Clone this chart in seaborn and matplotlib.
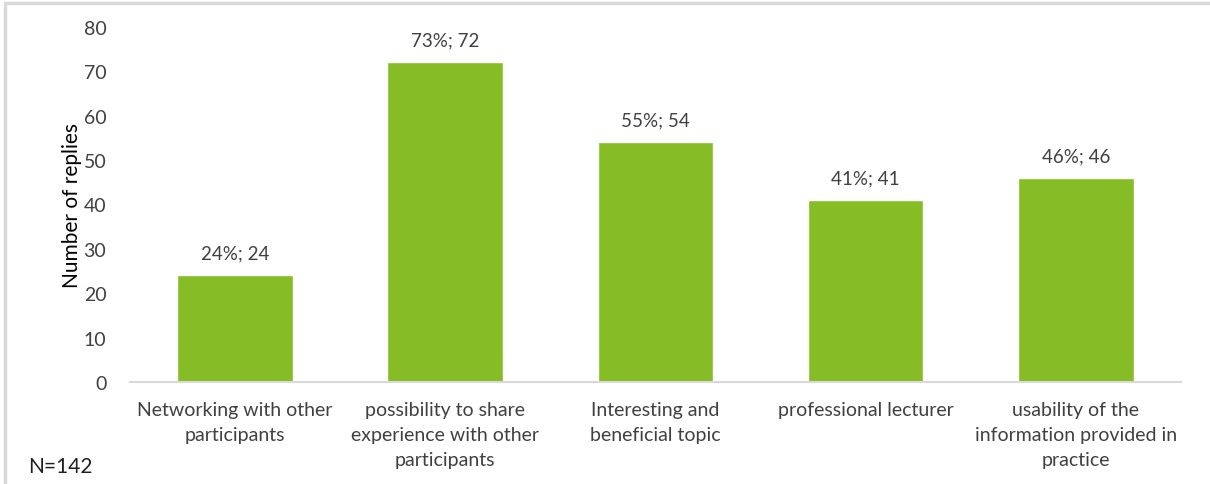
import matplotlib
matplotlib.use("Agg")
import matplotlib.pyplot as plt
import seaborn as sns
import pandas as pd
from matplotlib.patches import Rectangle

categories = [
    "Networking with other\nparticipants",
    "possibility to share\nexperience with other\nparticipants",
    "Interesting and\nbeneficial topic",
    "professional lecturer",
    "usability of the\ninformation provided in\npractice",
]
replies = [24, 72, 54, 41, 46]
shares = [24, 73, 55, 41, 46]
yticks = [0, 10, 20, 30, 40, 50, 60, 70, 80]
sample_note = "N=142"

sns.set_theme(style="white")
plt.rcParams["font.family"] = ["Lato", "DejaVu Sans"]

text_color = "#404040"
bar_color = "#86BC25"

df = pd.DataFrame({"category": categories, "replies": replies})

fig = plt.figure(figsize=(12.1, 4.85), dpi=100)
ax = fig.add_axes([0.1074, 0.2103, 0.8686, 0.732])

sns.barplot(data=df, x="category", y="replies", color=bar_color,
            saturation=1, width=0.55, ax=ax)

ax.set_ylim(0, 80)
ax.set_yticks(yticks)
ax.set_xlim(-0.5, len(categories) - 0.5)
ax.tick_params(axis="y", labelsize=14, colors=text_color, length=0, pad=17)
ax.tick_params(axis="x", labelsize=14, colors=text_color, length=0, pad=14)
for lbl in ax.get_xticklabels():
    lbl.set_linespacing(1.55)
ax.set_xlabel("")
ax.set_ylabel("Number of replies", fontsize=15, color="#000000", labelpad=1)

for side in ["top", "right", "left"]:
    ax.spines[side].set_visible(False)
ax.spines["bottom"].set_color("#d9d9d9")
ax.spines["bottom"].set_linewidth(1.5)

for i, (v, p) in enumerate(zip(replies, shares)):
    ax.annotate(f"{p}%; {v}", xy=(i, v), xytext=(0, 10),
                textcoords="offset points", ha="center", va="bottom",
                fontsize=13.5, color=text_color)

fig.text(28 / 1210, 1 - 467 / 485, sample_note, fontsize=15,
         color="#202020", ha="left", va="center")

# thin frame around the figure area
fig.patches.append(Rectangle((5 / 1210, -0.1), 1.2, 1.1 - 4 / 485,
                             transform=fig.transFigure, fill=False,
                             edgecolor="#d9d9d9", linewidth=2.5, zorder=0))

fig.savefig("out.png", dpi=100)
